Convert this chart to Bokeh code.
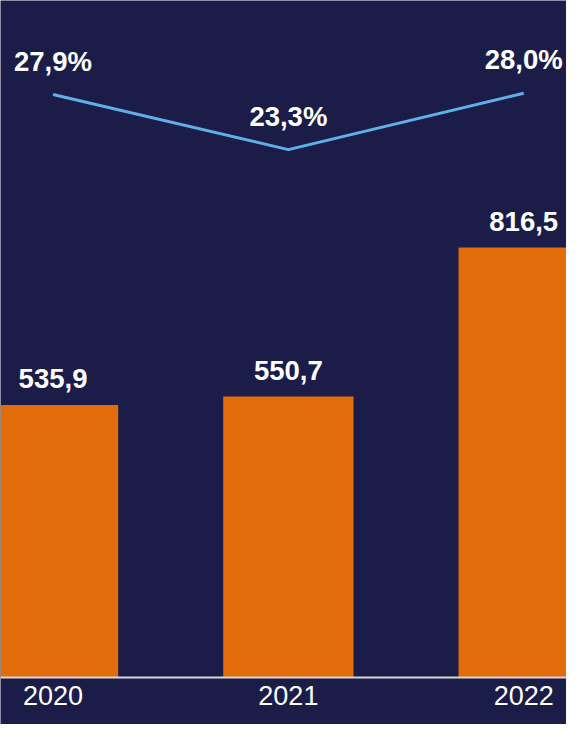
from bokeh.plotting import figure
from bokeh.models import Range1d, Span, ColumnDataSource
from bokeh.core.properties import value
from bokeh.embed import file_html
from bokeh.resources import INLINE

# ---- data ----
years = [2020, 2021, 2022]
year_labels = ["2020", "2021", "2022"]
revenue = [535.9, 550.7, 816.5]
revenue_labels = ["535,9", "550,7", "816,5"]
margin = [27.9, 23.3, 28.0]
margin_labels = ["27,9%", "23,3%", "28,0%"]

# ---- layout ----
W, H = 566, 724
SX, SY = W / 582.0, H / 740.0
BG = "#1b1d48"
BAR = "#e36c0a"
LINE = "#5fb0e8"
FONT = "Liberation Sans"

# x: 242 px per year (design), 2020 centred at x=54 px
px_per_year = 242.0 * SX
x0 = 2020 - 54 * SX / px_per_year
x_range = Range1d(x0, x0 + W / px_per_year)

# bars: baseline 50 at y=692 (design), 0.5735 px per unit
base = 50.0
k_bar = 0.5735 * SY
base_from_bottom = H - 692 * SY
y_start = base - base_from_bottom / k_bar
y_range = Range1d(y_start, y_start + H / k_bar)

# percent line: 27.9 at y=96 (design), 12.26 px per percent
k_pct = 12.26 * SY
pct_top = 27.9 + 96 * SY / k_pct
pct_range = Range1d(pct_top - H / k_pct, pct_top)

p = figure(width=W, height=H, x_range=x_range, y_range=y_range,
           output_backend="svg", toolbar_location=None,
           min_border=0, min_border_left=0, min_border_right=0,
           min_border_top=0, min_border_bottom=0)
p.extra_y_ranges = {"pct": pct_range}
p.axis.visible = False
p.grid.visible = False
p.outline_line_color = None
p.background_fill_color = BG
p.border_fill_color = BG

src = ColumnDataSource(dict(x=years, rev=revenue, rev_lab=revenue_labels,
                            pct=margin, pct_lab=margin_labels, yl=year_labels,
                            base=[base] * len(years)))

p.vbar(x="x", top="rev", bottom="base", width=134 * SX / px_per_year, source=src,
       fill_color=BAR, line_color=None)

axis_line = Span(location=base, dimension="width", line_color="#d8d8d8", line_width=2)
p.add_layout(axis_line)

p.line(x="x", y="pct", source=src, y_range_name="pct", line_color=LINE, line_width=3)

p.text(x="x", y="rev", text="rev_lab", source=src, y_offset=-27 * SY,
       text_align="center", text_baseline="middle", text_color="white",
       text_font=value(FONT), text_font_style="bold", text_font_size="27.5px")

p.text(x="x", y="pct", text="pct_lab", source=src, y_range_name="pct", y_offset=-34 * SY,
       text_align="center", text_baseline="middle", text_color="white",
       text_font=value(FONT), text_font_style="bold", text_font_size="27.5px")

p.text(x="x", y="base", text="yl", source=src, y_offset=8,
       text_align="center", text_baseline="top", text_color="white",
       text_font=value(FONT), text_font_size="27px")

open("out.html", "w").write(file_html(p, INLINE))
